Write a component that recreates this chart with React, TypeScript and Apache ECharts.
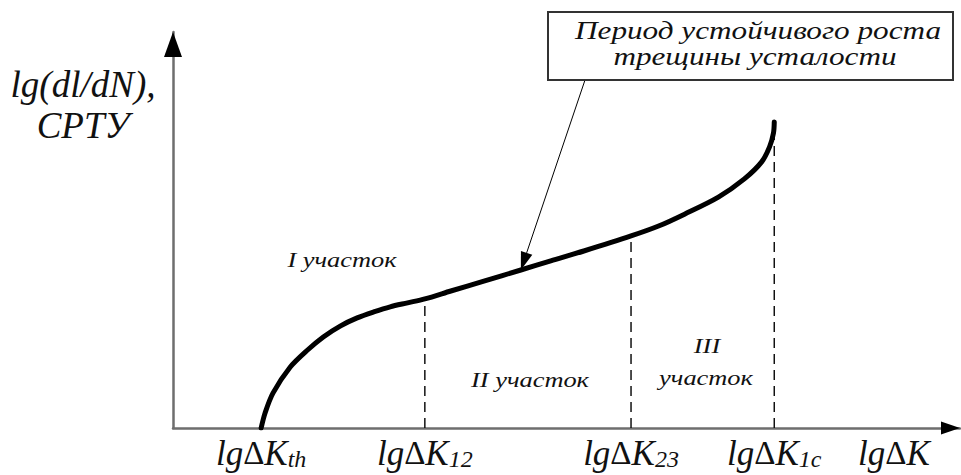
import React, { useEffect, useRef } from "react";
import * as echarts from "echarts";

// Fatigue crack growth rate curve, schematic units (lgΔK on x, lg(dl/dN) on y)
const crackX = [11.2, 11.7, 12.7, 14.9, 17.1, 19.1, 21.3, 23.4, 25.5, 27.6, 29.8, 32.0, 35.3, 39.5, 44.2, 48.0, 52.2, 58.2, 61.7, 65.0, 69.3, 72.6, 74.8, 75.8, 76.3, 76.4];
const crackY = [0, 3.8, 8.8, 15.4, 19.7, 23.0, 25.8, 27.8, 29.3, 30.6, 31.6, 32.6, 34.6, 37.1, 39.9, 42.2, 44.7, 48.5, 51.0, 54.0, 58.3, 62.9, 67.2, 71.0, 74.5, 77.3];

// Stage boundaries: lgΔK12, lgΔK23, lgΔK1c
const stageBounds = [32.0, 58.2, 76.4];

// x-axis labels: main part and subscript
const tickValues = [11.2, 32.0, 58.2, 76.4, 91.6];
const tickSubs = ["th", "12", "23", "1c", ""];

const yTitle = ["lg(dl/dN),", "СРТУ"];
const stageLabels = ["I участок", "II участок", "III", "участок"];
const calloutLines = ["Период устойчивого роста", "трещины усталости"];
// curve point the callout arrow points at
const calloutIndex = 14;

const FAMILY = "'Liberation Serif', 'Times New Roman', serif";
const italicFont = (size: number) => `italic ${size}px ${FAMILY}`;
const uprightFont = (size: number) => `normal ${size}px ${FAMILY}`;

export default function App() {
  const ref = useRef<HTMLDivElement>(null);

  useEffect(() => {
    const el = ref.current;
    if (!el) return;
    const chart = echarts.init(el, null, { renderer: "svg" });
    const axisColor = "#6e6e6e";
    const ink = "#111";

    const series: any[] = stageBounds.map((bx) => {
      const i = crackX.indexOf(bx);
      return {
        type: "line",
        data: [
          [bx, 0],
          [bx, crackY[i]],
        ],
        symbol: "none",
        silent: true,
        z: 2,
        lineStyle: { color: ink, width: 1.5, type: [10, 6] },
      };
    });
    series.push({
      type: "line",
      data: crackX.map((x, i) => [x, crackY[i]]),
      smooth: 0.3,
      symbol: "none",
      silent: true,
      z: 3,
      lineStyle: { color: "#000", width: 5, cap: "round", join: "round" },
    });

    const hiddenAxis = {
      type: "value",
      min: 0,
      max: 100,
      axisLine: { show: true, onZero: false, lineStyle: { color: axisColor, width: 2.5 } },
      axisTick: { show: false },
      axisLabel: { show: false },
      splitLine: { show: false },
    };

    chart.setOption({
      animation: false,
      backgroundColor: "#fff",
      grid: { left: 173, right: 1, top: 32, bottom: 47, containLabel: false, outerBoundsMode: "none" },
      xAxis: hiddenAxis,
      yAxis: hiddenAxis,
      series,
    });

    const px = (x: number, y: number) => chart.convertToPixel({ gridIndex: 0 }, [x, y]) as number[];
    const origin = px(0, 0);
    const xEnd = px(100, 0);
    const yEnd = px(0, 100);

    const text = (x: number, y: number, str: string, size: number, stretch = 1.2, extra: any = {}) => ({
      type: "text",
      x,
      y,
      scaleX: stretch,
      z: 20,
      style: {
        text: str,
        font: italicFont(size),
        fill: ink,
        align: "center",
        verticalAlign: "middle",
        ...extra,
      },
    });

    const graphics: any[] = [];

    // axis arrowheads
    graphics.push({
      type: "polygon",
      z: 15,
      shape: { points: [[yEnd[0], yEnd[1]], [yEnd[0] - 9, yEnd[1] + 25], [yEnd[0] + 9, yEnd[1] + 25]] },
      style: { fill: "#000" },
    });
    graphics.push({
      type: "polygon",
      z: 15,
      shape: { points: [[xEnd[0], xEnd[1]], [xEnd[0] - 19, xEnd[1] - 6.5], [xEnd[0] - 19, xEnd[1] + 6.5]] },
      style: { fill: "#000" },
    });

    // x-axis labels with subscripts
    const rich = {
      a: { font: italicFont(35), lineHeight: 35, fill: ink },
      d: { font: uprightFont(33), lineHeight: 35, fill: ink },
      s: { font: italicFont(24), lineHeight: 24, verticalAlign: "bottom", fill: ink },
    };
    tickValues.forEach((v, i) => {
      const p = px(v, 0);
      const sub = tickSubs[i] ? `{s|${tickSubs[i]}}` : "";
      graphics.push(text(p[0], origin[1] + 25, `{a|lg}{d|Δ}{a|K}${sub}`, 35, 1, { rich }));
    });

    // y-axis title
    graphics.push(text(83, 84, yTitle[0], 37, 1));
    graphics.push(text(83, 125, yTitle[1], 37, 1));

    // stage labels
    graphics.push(text(342, 259, stageLabels[0], 22));
    graphics.push(text(530, 379, stageLabels[1], 22));
    graphics.push(text(707, 345, stageLabels[2], 22));
    graphics.push(text(706, 377, stageLabels[3], 22));

    // callout box
    graphics.push({
      type: "rect",
      z: 18,
      shape: { x: 548, y: 12, width: 405, height: 68 },
      style: { fill: "#fff", stroke: "#333", lineWidth: 2 },
    });
    graphics.push(text(758, 30, calloutLines[0], 26));
    graphics.push(text(755, 56, calloutLines[1], 26));

    // callout arrow to the curve
    const tip = px(crackX[calloutIndex], crackY[calloutIndex]);
    const start = [585, 80];
    const dx = tip[0] - start[0];
    const dy = tip[1] - start[1];
    const len = Math.sqrt(dx * dx + dy * dy);
    const ux = dx / len;
    const uy = dy / len;
    const headLen = 18;
    const headHalf = 6;
    const base = [tip[0] - ux * headLen, tip[1] - uy * headLen];
    graphics.push({
      type: "line",
      z: 16,
      shape: { x1: start[0], y1: start[1], x2: base[0], y2: base[1] },
      style: { stroke: "#000", lineWidth: 1 },
    });
    graphics.push({
      type: "polygon",
      z: 16,
      shape: {
        points: [
          [tip[0], tip[1]],
          [base[0] - uy * headHalf, base[1] + ux * headHalf],
          [base[0] + uy * headHalf, base[1] - ux * headHalf],
        ],
      },
      style: { fill: "#000" },
    });

    chart.setOption({ graphic: graphics });

    return () => {
      chart.dispose();
    };
  }, []);

  return (
    <div
      ref={ref}
      style={{ position: "fixed", left: 0, top: 0, width: 961, height: 475, background: "#fff" }}
    />
  );
}
